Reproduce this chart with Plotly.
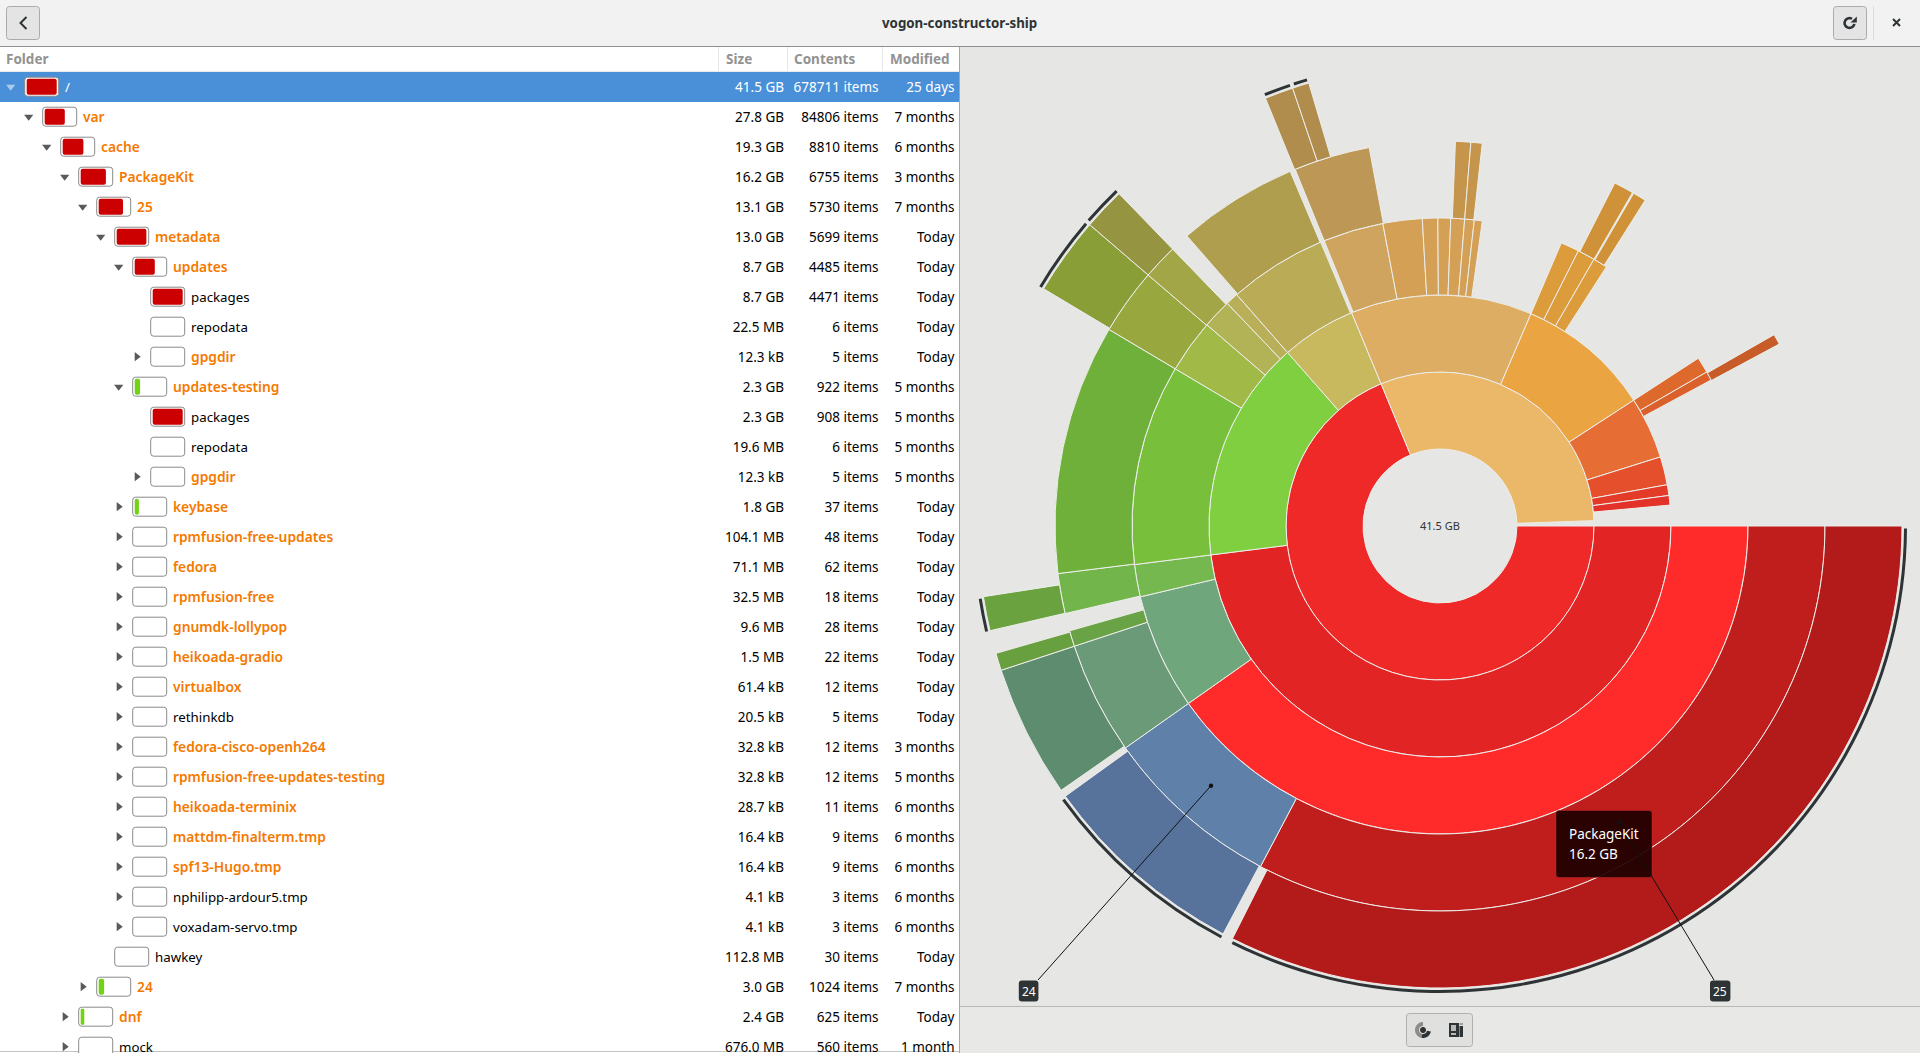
import numpy as np
import plotly.graph_objects as go

WIDTH, HEIGHT = 1920, 1053
UI_FONT = "Noto Sans"

# folder tree, one row per entry
FOLDER_NAMES = ["/", "var", "cache", "PackageKit", "25", "metadata", "updates", "packages", "repodata",
                "gpgdir", "updates-testing", "packages", "repodata", "gpgdir", "keybase",
                "rpmfusion-free-updates", "fedora", "rpmfusion-free", "gnumdk-lollypop", "heikoada-gradio",
                "virtualbox", "rethinkdb", "fedora-cisco-openh264", "rpmfusion-free-updates-testing",
                "heikoada-terminix", "mattdm-finalterm.tmp", "spf13-Hugo.tmp", "nphilipp-ardour5.tmp",
                "voxadam-servo.tmp", "hawkey", "24", "dnf", "mock"]
FOLDER_DEPTH = [0, 1, 2, 3, 4, 5, 6, 7, 7, 7, 6, 7, 7, 7, 6, 6, 6, 6, 6, 6, 6, 6, 6, 6, 6, 6, 6, 6, 6, 5, 4, 3, 3]
# 1 expanded, 0 collapsed, -1 no children
FOLDER_STATE = [1, 1, 1, 1, 1, 1, 1, -1, -1, 0, 1, -1, -1, 0, 0, 0, 0, 0, 0, 0, 0, 0, 0, 0, 0, 0, 0, 0, 0, -1, 0, 0, 0]
FOLDER_WARN = [0, 1, 1, 1, 1, 1, 1, 0, 0, 1, 1, 0, 0, 1, 1, 1, 1, 1, 1, 1, 1, 0, 1, 1, 1, 1, 1, 0, 0, 0, 1, 1, 0]
FOLDER_PCT = [100, 67, 69, 84, 81, 99, 67, 100, 0, 0, 18, 100, 0, 0, 14, 0, 0, 0, 0, 0, 0, 0, 0, 0, 0, 0, 0, 0, 0,
              0, 18, 12, 0]
FOLDER_SIZE = ["41.5 GB", "27.8 GB", "19.3 GB", "16.2 GB", "13.1 GB", "13.0 GB", "8.7 GB", "8.7 GB", "22.5 MB",
               "12.3 kB", "2.3 GB", "2.3 GB", "19.6 MB", "12.3 kB", "1.8 GB", "104.1 MB", "71.1 MB", "32.5 MB",
               "9.6 MB", "1.5 MB", "61.4 kB", "20.5 kB", "32.8 kB", "32.8 kB", "28.7 kB", "16.4 kB", "16.4 kB",
               "4.1 kB", "4.1 kB", "112.8 MB", "3.0 GB", "2.4 GB", "676.0 MB"]
FOLDER_ITEMS = ["678711 items", "84806 items", "8810 items", "6755 items", "5730 items", "5699 items",
                "4485 items", "4471 items", "6 items", "5 items", "922 items", "908 items", "6 items", "5 items",
                "37 items", "48 items", "62 items", "18 items", "28 items", "22 items", "12 items", "5 items",
                "12 items", "12 items", "11 items", "9 items", "9 items", "3 items", "3 items", "30 items",
                "1024 items", "625 items", "560 items"]
FOLDER_MODIFIED = ["25 days", "7 months", "6 months", "3 months", "7 months", "Today", "Today", "Today", "Today",
                   "Today", "5 months", "5 months", "5 months", "5 months", "Today", "Today", "Today", "Today",
                   "Today", "Today", "Today", "Today", "3 months", "5 months", "6 months", "6 months", "6 months",
                   "6 months", "6 months", "Today", "7 months", "Today", "1 month"]

# rings of the chart, clockwise from 3 o'clock, degrees
RING_1_START = [0, 247.5]
RING_1_END = [247.5, 358]
RING_1_COLOR = ["#EF2828", "#EAB868"]

RING_2_START = [0, 172.8, 228.7, 247.5, 293.2, 327, 342.6, 349.7, 352.4]
RING_2_END = [172.8, 228.7, 247.5, 293.2, 327, 342.6, 349.7, 352.4, 354.8]
RING_2_COLOR = ["#E22424", "#80CF40", "#C8B85E", "#DCAD62", "#EAA542", "#E66D33", "#E54F2B", "#E43A28", "#E3322A"]

RING_3_START = [0, 144.8, 166.7, 172.8, 210.7, 220.8, 226.3, 228.7, 247.9, 259.3, 266.7, 269.6, 272, 274.6, 276.4,
                293.2, 296.7, 300, 327, 330]
RING_3_END = [144.8, 166.7, 172.8, 210.7, 220.8, 226.3, 228.7, 247.2, 259.3, 266.7, 269.6, 272, 274.6, 276.4, 277.9,
              296.7, 300, 302.7, 330, 331.7]
RING_3_COLOR = ["#FF2B2B", "#6FA67C", "#75B84F", "#78C03C", "#A1B947", "#B2B357", "#B8AF58", "#BAAC56", "#CEA45F",
                "#D3A055", "#D3A055", "#D3A055", "#D3A055", "#D3A055", "#D3A055", "#DC9C3B", "#DC9C3B", "#DC9C3B",
                "#DD6A2C", "#DA612B"]

RING_4_START = [0, 117.8, 144.8, 161.8, 166.85, 172.9, 210.7, 220.7, 228.9, 247.9, 272.3, 274.6, 297, 300.2, 330.2]
RING_4_END = [117.8, 144.8, 161.8, 164.2, 172.9, 210.7, 220.7, 226, 247.1, 259.4, 274.6, 276.3, 300, 302.2, 331.8]
RING_4_COLOR = ["#BF1E1C", "#5F80A9", "#6A9A78", "#6AA346", "#72B54B", "#6FB03A", "#98A83E", "#A3A647", "#AE9E4E",
                "#BD9755", "#C4954B", "#C4954B", "#CF9238", "#CF9238", "#C85C28"]

RING_5_START = [0, 118, 145.1, 161.8, 166.9, 210.9, 220.7, 247.8, 251.4]
RING_5_END = [116.7, 144.2, 161.8, 164, 171.2, 220.7, 226, 251.4, 253.5]
RING_5_COLOR = ["#B31B1B", "#57739C", "#5E8C6E", "#68A03F", "#69A23E", "#8A9E38", "#959440", "#B08C4D", "#B08C4D"]

# dark arcs outside the last ring, folders with hidden children
ARC_START = [0.3, 118, 166.9, 210.9, 221, 247.9, 251.7]
ARC_END = [116.5, 144, 171, 220.5, 226, 251.2, 253.4]

RING_STEP = 77
CENTER_LABEL = "41.5 GB"
TOOLTIP_LINES = ["PackageKit", "16.2 GB"]


def rounded(x0, y0, x1, y1, r):
    return (f"M{x0 + r},{y0} L{x1 - r},{y0} Q{x1},{y0} {x1},{y0 + r} L{x1},{y1 - r} Q{x1},{y1} {x1 - r},{y1} "
            f"L{x0 + r},{y1} Q{x0},{y1} {x0},{y1 - r} L{x0},{y0 + r} Q{x0},{y0} {x0 + r},{y0} Z")


def sector(cx, cy, r0, r1, a0, a1):
    angles = np.radians(np.linspace(a0, a1, 30))
    outer = [f"{cx + r1 * np.cos(a):.2f},{cy + r1 * np.sin(a):.2f}" for a in angles]
    inner = [f"{cx + r0 * np.cos(a):.2f},{cy + r0 * np.sin(a):.2f}" for a in angles[::-1]]
    return "M" + " L".join(outer + inner) + " Z"


def rect(x0, y0, x1, y1, fill, layer="below"):
    return dict(type="rect", xref="x", yref="y", x0=x0, y0=y0, x1=x1, y1=y1, fillcolor=fill,
                line=dict(width=0), layer=layer)


def path(d, fill="rgba(0,0,0,0)", line=None, width=0, layer="above"):
    return dict(type="path", xref="x", yref="y", path=d, fillcolor=fill, layer=layer,
                line=dict(color=line or "rgba(0,0,0,0)", width=width))


def label(x, y, text, size=13.5, color="#000000", anchor="center", weight=400):
    return dict(x=x, y=y, xref="x", yref="y", text=text, showarrow=False, xanchor=anchor, yanchor="middle",
                font=dict(family=UI_FONT, size=size, color=color, weight=weight))


fig = go.Figure()

# tree view
row_y = [86.7 + 30 * i for i in range(len(FOLDER_NAMES))]
text_y = [y + 1.5 for y in row_y]
box_left = [24.7 + 18 * d for d in FOLDER_DEPTH]
text_left = [65 + 18 * d for d in FOLDER_DEPTH]

fig.add_trace(go.Bar(orientation="h", y=row_y, x=[34] * len(row_y), base=box_left, width=19,
                     marker=dict(color="#FFFFFF", cornerradius=3, line=dict(color="#8A8A8A", width=1)),
                     hoverinfo="skip"))
fill_rows = [i for i, p in enumerate(FOLDER_PCT) if p > 0]
fig.add_trace(go.Bar(orientation="h", y=[row_y[i] for i in fill_rows],
                     x=[FOLDER_PCT[i] * 0.3 for i in fill_rows],
                     base=[box_left[i] + 2 for i in fill_rows], width=16,
                     marker=dict(color=["#CC0000" if FOLDER_PCT[i] > 33 else "#73D216" for i in fill_rows],
                                 cornerradius=2, line=dict(width=0)),
                     hoverinfo="skip"))

arrow_rows = [i for i, s in enumerate(FOLDER_STATE) if s >= 0]
fig.add_trace(go.Scatter(x=[10.7 + 18 * FOLDER_DEPTH[i] for i in arrow_rows], y=[row_y[i] for i in arrow_rows],
                         mode="markers", hoverinfo="skip",
                         marker=dict(size=8, line=dict(width=0),
                                     symbol=["triangle-down" if FOLDER_STATE[i] == 1 else "triangle-right"
                                             for i in arrow_rows],
                                     color=["#A9CBF0" if i == 0 else "#5A5A5A" for i in arrow_rows])))

name_colors = ["#FFFFFF" if i == 0 else ("#F57900" if w else "#000000") for i, w in enumerate(FOLDER_WARN)]
fig.add_trace(go.Scatter(x=text_left, y=text_y, text=FOLDER_NAMES, mode="text", textposition="middle right",
                         hoverinfo="skip",
                         textfont=dict(family=UI_FONT, color=name_colors,
                                       size=[13.8 if w else 13.3 for w in FOLDER_WARN],
                                       weight=[600 if w else 400 for w in FOLDER_WARN])))
cell_colors = ["#FFFFFF"] + ["#000000"] * (len(row_y) - 1)
for values, right in [(FOLDER_SIZE, 784), (FOLDER_ITEMS, 878.5), (FOLDER_MODIFIED, 954.5)]:
    fig.add_trace(go.Scatter(x=[right] * len(row_y), y=text_y, text=values, mode="text",
                             textposition="middle left", hoverinfo="skip",
                             textfont=dict(family=UI_FONT, size=13.5, color=cell_colors)))

# sunburst rings
rings = [(RING_1_START, RING_1_END, RING_1_COLOR), (RING_2_START, RING_2_END, RING_2_COLOR),
         (RING_3_START, RING_3_END, RING_3_COLOR), (RING_4_START, RING_4_END, RING_4_COLOR),
         (RING_5_START, RING_5_END, RING_5_COLOR)]
for level, (start, end, colors) in enumerate(rings, start=1):
    s, e = np.array(start), np.array(end)
    fig.add_trace(go.Barpolar(theta=(s + e) / 2, width=e - s, r=[RING_STEP] * len(s),
                              base=[RING_STEP * level] * len(s), hoverinfo="skip",
                              marker=dict(color=colors, line=dict(color="#EDEDEA", width=1))))
s, e = np.array(ARC_START), np.array(ARC_END)
fig.add_trace(go.Barpolar(theta=(s + e) / 2, width=e - s, r=[3] * len(s), base=[464] * len(s), hoverinfo="skip",
                          marker=dict(color="#2E3436", line=dict(width=0))))

shapes = [
    rect(0, 0, WIDTH, 46, "#F2F2F2"),
    rect(0, 46, WIDTH, 47, "#8F8F8B"),
    rect(0, 47, 959, HEIGHT, "#FFFFFF"),
    rect(0, 71, 959, 72, "#E9E9E9"),
    rect(718, 47, 719, 71, "#E6E6E6"),
    rect(787, 47, 788, 71, "#E6E6E6"),
    rect(882, 47, 883, 71, "#E6E6E6"),
    rect(0, 72, 959, 102, "#4A90D9"),
    rect(959, 47, 960, HEIGHT, "#A6A6A3"),
    rect(960, 1007, WIDTH, HEIGHT, "#E8E8E7"),
    rect(960, 1006, WIDTH, 1007, "#B8B8B5"),
    rect(0, 1051, 959, 1052, "#C4C4C4"),
    # header buttons
    path(rounded(6.5, 6.5, 39.5, 39.5, 3), "#E4E4E4", "#ABABAB", 1),
    path("M26.5,17 L20.5,23 L26.5,29", line="#2E3436", width=2),
    path(rounded(1833.5, 6.5, 1866.5, 39.5, 3), "#E4E4E4", "#ABABAB", 1),
    path(sector(1849.5, 23, 3.6, 6.2, 10, 300), "#2E3436"),
    path("M1850.5,22.5 L1856.8,22.5 L1856.8,16.5 Z", "#2E3436"),
    rect(1873, 6, 1874, 40, "#DCDCDC"),
    path("M1893,19 L1900,26 M1900,19 L1893,26", line="#2E3436", width=2),
    # view switcher
    path(rounded(1406.5, 1013.5, 1472.5, 1046.5, 3), "#E0E0DF", "#B0B0AE", 1),
    rect(1407, 1014, 1439, 1046, "#D6D6D4"),
    rect(1439, 1014, 1440, 1046, "#AEAEAC"),
    path(sector(1423, 1030, 4, 8, 100, 270), "#8C8C8A"),
    path(sector(1423, 1030, 4, 8, 10, 100), "#2E3436"),
    path(sector(1423, 1030, 0, 3, 0, 360), "#2E3436"),
    rect(1449, 1023, 1459, 1037, "#2E3436", "above"),
    rect(1451, 1025, 1456, 1031, "#B8B8B6", "above"),
    rect(1451, 1033, 1456, 1035, "#B8B8B6", "above"),
    rect(1459.5, 1026, 1463, 1037, "#2E3436", "above"),
    rect(1459.5, 1023, 1463, 1025, "#A0A0A0", "above"),
    # leader lines, tooltip, path markers
    dict(type="line", xref="x", yref="y", x0=1211, y0=785.7, x1=1038, y1=980, layer="above",
         line=dict(color="#111111", width=1)),
    path(rounded(1018.8, 980.4, 1038.4, 1001.6, 3), "#2E3436"),
    path(sector(1211, 785.7, 0, 2.2, 0, 360), "#111111"),
    path(rounded(1710, 980.4, 1730.4, 1001.6, 3), "#2E3436"),
    path(rounded(1556, 810.5, 1652, 877.5, 3), "rgba(30,0,0,0.93)", "rgba(190,40,40,0.5)", 1),
    dict(type="line", xref="x", yref="y", x0=1619, y0=822, x1=1714, y1=980, layer="above",
         line=dict(color="#111111", width=1)),
    path(sector(1619, 822, 0, 2.2, 0, 360), "#111111"),
]

annotations = [
    label(959, 22.5, "vogon-constructor-ship", size=13.3, color="#2E3436", weight=700),
    label(4, 58.7, "Folder", color="#929292", anchor="left", weight=700),
    label(724, 58.7, "Size", color="#929292", anchor="left", weight=700),
    label(792, 58.7, "Contents", color="#929292", anchor="left", weight=700),
    label(887.5, 58.7, "Modified", color="#929292", anchor="left", weight=700),
    label(1440, 525, CENTER_LABEL, size=11, color="#2E3436"),
    label(1567, 834, TOOLTIP_LINES[0], size=13.5, color="#FFFFFF", anchor="left"),
    label(1567, 854, TOOLTIP_LINES[1], size=13.5, color="#FFFFFF", anchor="left"),
    label(1028.6, 991, "24", size=12, color="#FFFFFF"),
    label(1720.2, 991, "25", size=12, color="#FFFFFF"),
]

fig.update_layout(
    width=WIDTH, height=HEIGHT, margin=dict(l=0, r=0, t=0, b=0, pad=0),
    paper_bgcolor="#E6E6E4", plot_bgcolor="rgba(0,0,0,0)", showlegend=False, barmode="overlay",
    xaxis=dict(range=[0, WIDTH], visible=False, domain=[0, 1], fixedrange=True),
    yaxis=dict(range=[HEIGHT, 0], visible=False, domain=[0, 1], fixedrange=True),
    polar=dict(
        domain=dict(x=[960 / WIDTH, 1], y=[(HEIGHT - 526 - 480) / HEIGHT, (HEIGHT - 526 + 480) / HEIGHT]),
        bgcolor="rgba(0,0,0,0)", barmode="overlay",
        radialaxis=dict(range=[0, 480], visible=False),
        angularaxis=dict(direction="clockwise", rotation=0, visible=False, thetaunit="degrees"),
    ),
    shapes=shapes, annotations=annotations,
)

fig.write_html("out.html", config=dict(displayModeBar=False),
               post_script="document.body.style.margin='0';document.body.style.overflow='hidden';")
